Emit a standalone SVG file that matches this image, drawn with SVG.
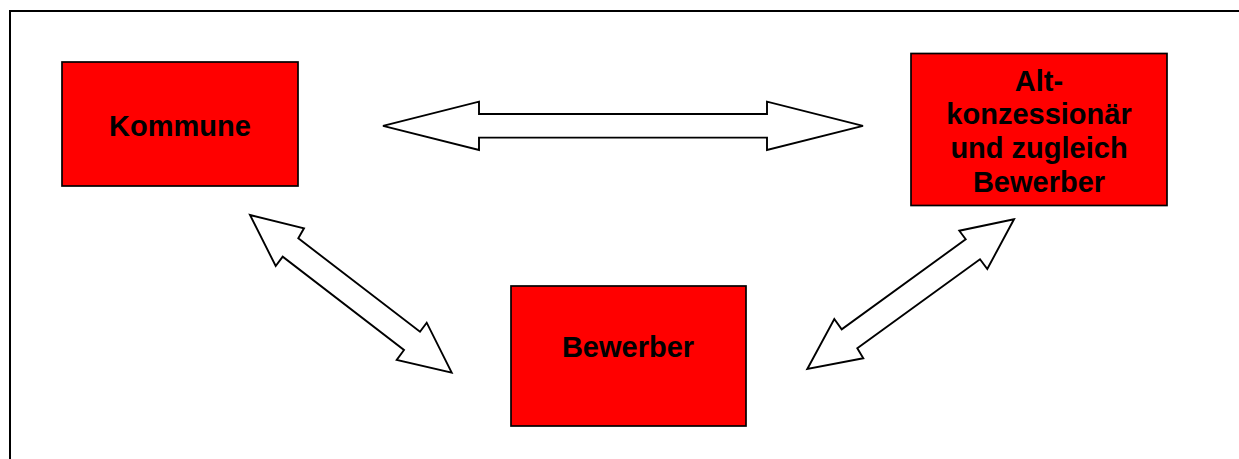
<svg xmlns="http://www.w3.org/2000/svg" width="1239" height="459" viewBox="0 0 1239 459">
  <style>
    .box { fill: #ff0000; stroke: #000; stroke-width: 1.7; }
    .lbl { font-family: "Liberation Sans", Arial, sans-serif; font-weight: bold; font-size: 29px; fill: #000; text-anchor: middle; }
    .arrow { fill: #fff; stroke: #000; stroke-width: 1.9; stroke-linejoin: miter; }
    .frame { stroke: #000; stroke-width: 2; fill: none; }
  </style>
  <rect width="1239" height="459" fill="#fff"/>
  <!-- page frame: top and left edges -->
  <g id="frame">
    <line class="frame" x1="9" y1="11" x2="1239" y2="11"/>
    <line class="frame" x1="10" y1="10" x2="10" y2="459"/>
  </g>
  <g id="connectors">
    <polygon class="arrow" points="383,125.8 479,101.7 479,114 767,114 767,101.7 863,125.8 767,150 767,137.6 479,137.6 479,150"/>
    <polygon class="arrow" points="250,215 304,228.3 298.3,238.3 420,331.7 426.7,322.7 451.7,372.7 396.7,360 404,350 282.7,256.7 275.7,266"/>
    <polygon class="arrow" points="1014,219.3 959.3,230.7 965.7,239.3 841.7,329.3 834.3,319 807.3,369 863.3,358.3 857.3,348.3 980,259.3 987.3,269"/>
  </g>
  <g id="kommune">
    <rect class="box" x="62" y="62" width="236" height="124"/>
    <text class="lbl" x="180" y="136">Kommune</text>
  </g>
  <g id="altkonzessionaer">
    <rect class="box" x="911" y="53.5" width="256" height="152"/>
    <text class="lbl" x="1039" y="91">Alt-</text>
    <text class="lbl" x="1039" y="124">konzessionär</text>
    <text class="lbl" x="1039" y="157.5">und zugleich</text>
    <text class="lbl" x="1039" y="191.5">Bewerber</text>
  </g>
  <g id="bewerber">
    <rect class="box" x="511" y="286" width="235" height="140"/>
    <text class="lbl" x="628" y="357">Bewerber</text>
  </g>
</svg>
